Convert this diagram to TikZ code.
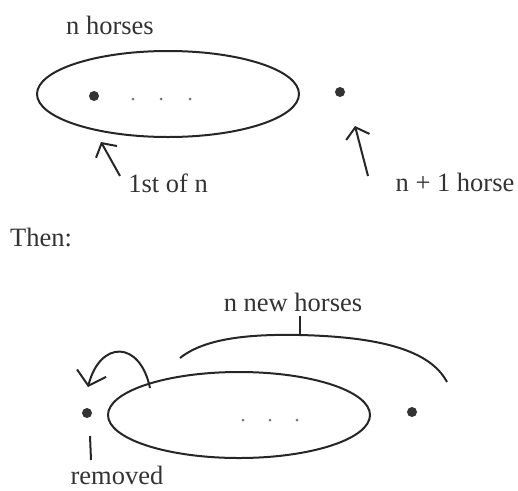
\documentclass[tikz,border=0pt]{standalone}
\usepackage{fontspec}
\setmainfont{Liberation Serif}
\usetikzlibrary{arrows.meta,shapes.geometric}
\begin{document}
\begin{tikzpicture}[x=1pt,y=-1pt,
 ln/.style={line width=2pt, draw=black!85},
 lbl/.style={font=\fontsize{26.5}{30}\selectfont, text=black!80, inner sep=0pt},
 bigdot/.style={circle, fill=black!80, minimum size=10pt, inner sep=0pt},
 smalldot/.style={circle, fill=black!55, minimum size=3pt, inner sep=0pt},
 oval/.style={ellipse, ln, minimum width=262pt, minimum height=86pt, inner sep=0pt},
 barb/.style={-{Straight Barb[length=10pt,width=24pt]}},
 bigbarb/.style={-{Straight Barb[length=13pt,width=30pt]}}]
\useasboundingbox (0,0) rectangle (518,490);
% top part
\node[lbl] (nh) at (110,25) {n horses};
\node[oval] (e1) at (168,94) {};
\node[bigdot] (d1) at (94,96) {};
\node[smalldot] (s1) at (133,99) {};
\node[smalldot] (s2) at (161,99) {};
\node[smalldot] (s3) at (190,99) {};
\node[bigdot] (d2) at (340,92) {};
\node[lbl] (first) at (168,183) {1st of n};
\node[lbl] (np1) at (455,182) {n + 1 horse};
\coordinate (a1s) at (120,176);
\coordinate (a1t) at (101,142);
\coordinate (a2s) at (368,176);
\coordinate (a2t) at (355,126);
\draw[ln,barb] (a1s) -- (a1t);
\draw[ln,barb] (a2s) -- (a2t);
% then
\node[lbl] (then) at (41,237) {Then:};
% bottom part
\node[lbl] (nnh) at (293,302) {n new horses};
\node[oval] (e2) at (239,415) {};
\node[bigdot] (r) at (87,413) {};
\node[smalldot] (t1) at (243,420) {};
\node[smalldot] (t2) at (270,420) {};
\node[smalldot] (t3) at (297,420) {};
\node[bigdot] (d3) at (412,412) {};
\node[lbl] (rem) at (117,475) {removed};
\coordinate (rl1) at (90,436);
\coordinate (rl2) at (91,460);
\draw[ln] (rl1) -- (rl2);
\coordinate (cs) at (150,388);
\coordinate (ct) at (88,387);
\draw[ln,bigbarb] (cs) .. controls (140,340) and (100,340) .. (ct);
\coordinate (b1) at (180,358);
\coordinate (bm) at (300,335);
\coordinate (b2) at (447,382);
\coordinate (tk) at (300,316);
\draw[ln] (b1) .. controls (205,338) and (250,334) .. (bm) .. controls (380,337) and (430,350) .. (b2);
\draw[ln] (tk) -- (bm);
\end{tikzpicture}
\end{document}
